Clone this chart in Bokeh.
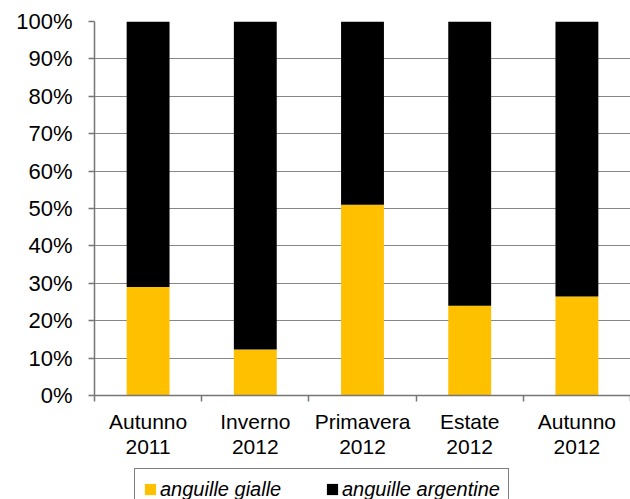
from bokeh.plotting import figure
from bokeh.layouts import column
from bokeh.models import FixedTicker, PrintfTickFormatter, Legend, LegendItem, Range1d, ColumnDataSource
from bokeh.embed import file_html
from bokeh.resources import INLINE

# ---- data ----
categories = ["Autunno\n2011", "Inverno\n2012", "Primavera\n2012", "Estate\n2012", "Autunno\n2012"]
gialle = [29.0, 12.3, 51.0, 24.0, 26.5]
argentine = [71.0, 87.7, 49.0, 76.0, 73.5]
series_names = ["anguille gialle", "anguille argentine"]
series_keys = ["gialle", "argentine"]
colors = ["#FFC000", "#000000"]
y_ticks = list(range(0, 101, 10))

n = len(categories)
centers = [i + 0.5 for i in range(n)]
bounds = list(range(n + 1))

FONT = "Liberation Sans"
AXIS_COLOR = "#767676"

source = ColumnDataSource(dict(x=centers, gialle=gialle, argentine=argentine))

# ---- main chart ----
p = figure(width=630, height=464, output_backend="svg", toolbar_location=None,
           x_range=Range1d(0, n), y_range=Range1d(0, 100),
           min_border_left=94, min_border_right=0, min_border_top=21, min_border_bottom=69)
p.outline_line_color = None
p.background_fill_color = "white"

p.vbar_stack(series_keys, x="x", width=0.4, color=colors, line_color=None, source=source)

# x axis: labels at centers, tick marks at category boundaries (minor ticks)
xa = p.xaxis[0]
xa.ticker = FixedTicker(ticks=centers, minor_ticks=bounds)
xa.major_label_overrides = {c: lab for c, lab in zip(centers, categories)}
xa.major_tick_out = 0
xa.major_tick_in = 0
xa.minor_tick_out = 6
xa.minor_tick_in = 0
xa.minor_tick_line_color = AXIS_COLOR
xa.minor_tick_line_width = 1.5
xa.axis_line_color = AXIS_COLOR
xa.axis_line_width = 1.5
xa.major_label_standoff = 8
xa.major_label_text_font = FONT
xa.major_label_text_font_size = "21px"
xa.major_label_text_color = "#000000"
xa.major_label_text_line_height = 1.1

ya = p.yaxis[0]
ya.ticker = FixedTicker(ticks=y_ticks)
ya.formatter = PrintfTickFormatter(format="%d%%")
ya.major_tick_out = 6
ya.major_tick_in = 0
ya.major_tick_line_color = AXIS_COLOR
ya.major_tick_line_width = 1.5
ya.minor_tick_line_color = None
ya.axis_line_color = AXIS_COLOR
ya.axis_line_width = 1.5
ya.major_label_standoff = 16
ya.major_label_text_font = FONT
ya.major_label_text_font_size = "22px"
ya.major_label_text_color = "#000000"

p.xgrid.visible = False
p.ygrid.grid_line_color = "#878787"
p.ygrid.grid_line_width = 1

# ---- legend strip (same series, range set so only the legend shows) ----
pl = figure(width=630, height=35, output_backend="svg", toolbar_location=None,
            x_range=Range1d(0, n), y_range=Range1d(1000, 1001),
            x_axis_location=None, y_axis_location=None,
            min_border_left=94, min_border_right=0, min_border_top=0, min_border_bottom=0)
pl.outline_line_color = None
pl.grid.visible = False
lrs = pl.vbar_stack(series_keys, x="x", width=0.4, color=colors, line_color=None, source=source)

legend = Legend(
    items=[LegendItem(label=series_names[i], renderers=[r]) for i, r in enumerate(lrs)],
    location=(40, -11), orientation="horizontal", padding=8, spacing=7,
    glyph_width=14, glyph_height=14, label_standoff=3, label_width=158, label_height=24,
    label_text_font=FONT, label_text_font_size="20px", label_text_font_style="italic",
    label_text_color="#000000", border_line_color="#000000", border_line_width=1,
    background_fill_color="white", background_fill_alpha=1, margin=0,
)
pl.add_layout(legend)

layout = column(p, pl, spacing=0)
open("out.html", "w").write(file_html(layout, INLINE))
